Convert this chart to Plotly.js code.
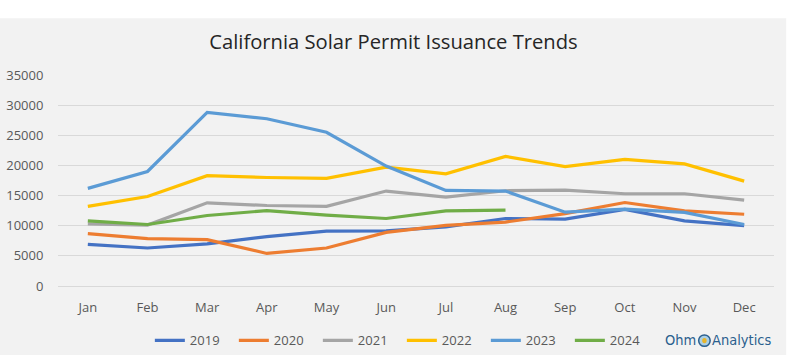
<!DOCTYPE html>
<html>
<head>
<meta charset="utf-8">
<script src="https://cdn.plot.ly/plotly-3.0.1.min.js"></script>
<style>
html,body{margin:0;padding:0;background:#fff;}
#chart{width:790px;height:355px;}
</style>
</head>
<body>
<div id="chart"></div>
<script>
const months = ["Jan","Feb","Mar","Apr","May","Jun","Jul","Aug","Sep","Oct","Nov","Dec"];
const years = ["2019","2020","2021","2022","2023","2024"];
const y2019 = [6900, 6300, 7000, 8200, 9100, 9150, 9800, 11200, 11100, 12700, 10800, 10000];
const y2020 = [8700, 7850, 7700, 5400, 6300, 8900, 10050, 10600, 12000, 13850, 12450, 11900];
const y2021 = [10300, 10100, 13800, 13350, 13200, 15750, 14750, 15800, 15900, 15300, 15300, 14250];
const y2022 = [13200, 14850, 18300, 18000, 17850, 19700, 18600, 21500, 19800, 21000, 20250, 17400];
const y2023 = [16200, 19000, 28800, 27750, 25500, 19900, 15850, 15750, 12250, 12750, 12200, 10200];
const y2024 = [10800, 10200, 11700, 12500, 11750, 11200, 12450, 12600];
const yTicks = [0, 5000, 10000, 15000, 20000, 25000, 30000, 35000];
const colors = ["#4472C4", "#ED7D31", "#A5A5A5", "#FFC000", "#5B9BD5", "#70AD47"];

const series = [y2019, y2020, y2021, y2022, y2023, y2024];
const traces = series.map((vals, i) => ({
  type: "scatter",
  mode: "lines",
  name: years[i],
  x: months.slice(0, vals.length),
  y: vals,
  line: {color: colors[i], width: 3.2},
  hoverinfo: "x+y+name"
}));

const W = 715.6, L = 58.2, H = 211.5, B = 286.5;
const px = p => (p - L) / W;
const py = p => (B - p) / H;

const layout = {
  width: 790, height: 355,
  margin: {l: 58, r: 16, t: 75, b: 68.5, pad: 0, autoexpand: false},
  paper_bgcolor: "#f2f2f2",
  plot_bgcolor: "#f2f2f2",
  font: {family: "Open Sans, Liberation Sans, sans-serif", color: "#595959", size: 13},
  title: {
    text: "California Solar Permit Issuance Trends",
    font: {family: "Open Sans, sans-serif", size: 20.2, color: "#262626"},
    x: 393.5/790, xref: "container", xanchor: "center",
    y: 1 - 41.5/355, yref: "container", yanchor: "middle"
  },
  xaxis: {
    type: "category",
    categoryorder: "array",
    categoryarray: months,
    range: [-0.5, 11.5],
    showgrid: false, zeroline: false, showline: false,
    ticks: "outside", ticklen: 9, tickcolor: "rgba(0,0,0,0)",
    tickfont: {size: 13, color: "#595959"},
    fixedrange: true
  },
  yaxis: {
    range: [0, 35000],
    tickvals: yTicks,
    ticktext: yTicks.map(String),
    showgrid: true, gridcolor: "#d9d9d9", gridwidth: 1,
    zeroline: true, zerolinecolor: "#d9d9d9", zerolinewidth: 1,
    showline: false,
    ticks: "outside", ticklen: 11, tickcolor: "rgba(0,0,0,0)",
    tickfont: {size: 13, color: "#595959"},
    fixedrange: true
  },
  showlegend: true,
  legend: {
    orientation: "h",
    x: px(150), xref: "paper", xanchor: "left",
    y: py(341), yref: "paper", yanchor: "middle",
    bgcolor: "rgba(0,0,0,0)",
    font: {size: 13, color: "#595959"},
    entrywidth: 39, entrywidthmode: "pixels",
    itemwidth: 30,
    tracegroupgap: 0
  },
  shapes: [
    {type: "rect", xref: "paper", yref: "paper", x0: -0.2, x1: 1.2, y0: py(18), y1: py(-5), fillcolor: "#ffffff", line: {width: 0}, layer: "below"},
    {type: "rect", xref: "paper", yref: "paper", x0: px(786), x1: px(800), y0: py(360), y1: py(-5), fillcolor: "#ffffff", line: {width: 0}, layer: "below"},
    {type: "circle", xref: "paper", yref: "paper", x0: px(698.5), x1: px(710), y0: py(347), y1: py(335.5), fillcolor: "#a9cfe6", line: {color: "#2b5f8e", width: 1.5}},
    {type: "circle", xref: "paper", yref: "paper", x0: px(702), x1: px(706.5), y0: py(344), y1: py(338.5), fillcolor: "#e8b52a", line: {width: 0}}
  ],
  annotations: [
    {text: "Ohm", xref: "paper", yref: "paper", x: px(698), y: py(341), xanchor: "right", yanchor: "middle", showarrow: false,
     font: {family: "Liberation Sans Narrow, DejaVu Sans Condensed, Liberation Sans, sans-serif", size: 14.5, color: "#2b5f8e"}},
    {text: "Analytics", xref: "paper", yref: "paper", x: px(710), y: py(341), xanchor: "left", yanchor: "middle", showarrow: false,
     font: {family: "Liberation Sans Narrow, DejaVu Sans Condensed, Liberation Sans, sans-serif", size: 14.5, color: "#2b5f8e"}}
  ]
};

Plotly.newPlot("chart", traces, layout, {displayModeBar: false, staticPlot: true});
</script>
</body>
</html>
